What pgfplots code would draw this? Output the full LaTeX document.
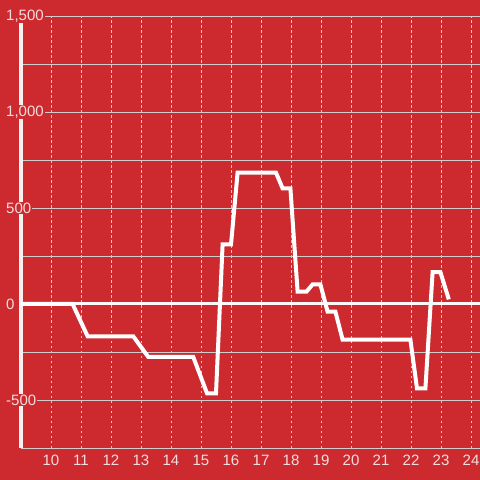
\documentclass[border=0pt]{standalone}
\usepackage{pgfplots}
\pgfplotsset{compat=1.18}
\usepackage{fontspec}
\setmainfont{Liberation Sans}
\definecolor{bgred}{RGB}{204,42,47}
\definecolor{lbl}{RGB}{242,222,222}
\definecolor{gridc}{RGB}{210,205,205}
\begin{document}
\begin{tikzpicture}
\fill[bgred] (-21bp,-32bp) rectangle (459bp,448bp);
\useasboundingbox (-21bp,-32bp) rectangle (459bp,448bp);
\begin{axis}[
  at={(0,0)}, anchor=south west,
  scale only axis, width=459bp, height=432bp,
  xmin=9.0, xmax=24.3, ymin=-750, ymax=1500,
  axis x line*=bottom, axis y line*=left,
  x axis line style={gridc, line width=0.8bp, -},
  y axis line style={white!93!bgred, line width=3bp, -},
  major tick length=0pt, minor tick length=0pt,
  xtick={10,...,24},
  ytick={-500,0,500,1000,1500},
  yticklabels={{-500},{0},{500},{1,000},{1,500}},
  minor ytick={-250,250,750,1250},
  ymajorgrids, yminorgrids, xmajorgrids,
  major y grid style={gridc, line width=0.8bp},
  minor y grid style={gridc, line width=0.8bp},
  major x grid style={gridc, line width=0.8bp, dash pattern=on 2.5bp off 2.5bp},
  tick label style={font=\fontsize{15bp}{16bp}\selectfont, text=lbl},
  yticklabel style={anchor=west, xshift=-16bp, fill=bgred, inner sep=1bp},
  xticklabel style={yshift=-4bp},
  /pgf/number format/assume math mode=true,
]
\addplot[white!96!bgred, line width=3bp, forget plot] coordinates {(9.0,0) (24.3,0)};
\addplot[white, line width=4bp, line join=miter] coordinates {
(9.0,0) (10.72,0) (11.22,-168) (12.74,-168) (13.24,-275) (14.74,-275)
(15.2,-465) (15.5,-465) (15.72,310) (16.0,310) (16.22,684) (17.5,684)
(17.72,602) (17.98,602) (18.22,65) (18.52,65) (18.72,102) (18.98,102)
(19.22,-40) (19.48,-40) (19.72,-186) (21.98,-186) (22.2,-440) (22.48,-440)
(22.72,166) (22.98,166) (23.26,24)
};
\end{axis}
\end{tikzpicture}
\end{document}
